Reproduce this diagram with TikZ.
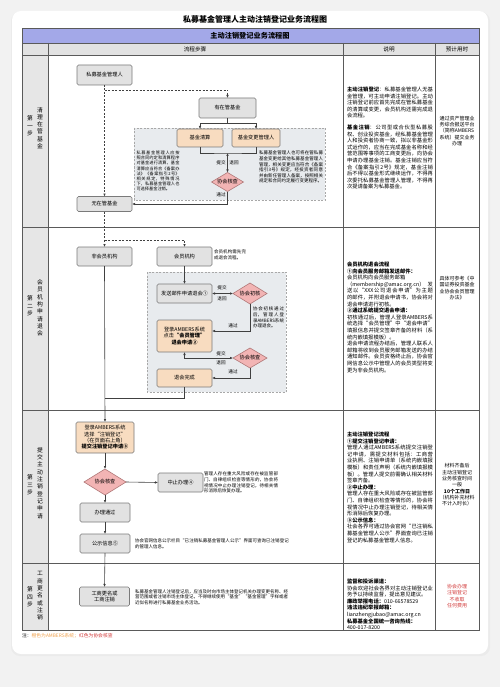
\documentclass[tikz,border=0pt]{standalone}
\usepackage{fontspec}
\setmainfont{Noto Sans CJK SC}
\XeTeXlinebreaklocale "zh"
\XeTeXlinebreakskip = 0pt plus 1pt
\usetikzlibrary{shapes.geometric,arrows.meta,calc}
\definecolor{bgc}{HTML}{F2F2F2}
\definecolor{hdrblue}{HTML}{A3A8E8}
\definecolor{hdrgray}{HTML}{E2E2E2}
\definecolor{lblgray}{HTML}{E6E6E6}
\definecolor{boxgray}{HTML}{E2E2E2}
\definecolor{boxline}{HTML}{7A7A7A}
\definecolor{boxorange}{HTML}{F8DCC0}
\definecolor{diapink}{HTML}{F2B4B4}
\definecolor{diaborder}{HTML}{B07878}
\definecolor{areagray}{HTML}{E8EBEE}
\definecolor{areaborder}{HTML}{A8A8A8}
\definecolor{flowline}{HTML}{404040}
\definecolor{tlinec}{HTML}{5A5A5A}
\definecolor{redt}{HTML}{D23A3A}
\definecolor{oranget}{HTML}{F0A24E}
\begin{document}
\begin{tikzpicture}[x=1pt,y=-1pt,
  every node/.style={inner sep=0pt, outer sep=0pt},
  flowbox/.style={draw=boxline, rounded corners=1.5pt, line width=0.6pt, align=center, font=\fontsize{5.2}{6.3}\selectfont},
  gbox/.style={flowbox, fill=boxgray},
  obox/.style={flowbox, fill=boxorange},
  dia/.style={diamond, aspect=1.6, draw=diaborder, fill=diapink, line width=0.6pt, font=\fontsize{5.2}{6.3}\selectfont},
  conn/.style={draw=flowline, line width=0.6pt},
  arr/.style={conn, -{Latex[length=3pt,width=2.6pt]}},
  darr/.style={conn, {Latex[length=3pt,width=2.6pt]}-{Latex[length=3pt,width=2.6pt]}},
  dashc/.style={conn, dash pattern=on 2pt off 1.5pt},
  dasharr/.style={arr, dash pattern=on 2pt off 1.5pt},
  note/.style={font=\fontsize{4.5}{5.6}\selectfont, align=justify},
  desc/.style={font=\fontsize{5.3}{6.6}\selectfont, text width=86pt, align=justify, anchor=north west},
  lbl/.style={font=\fontsize{4.6}{5.5}\selectfont},
  timec/.style={font=\fontsize{5}{6.3}\selectfont, align=center},
  steplbl/.style={font=\fontsize{5.8}{7.3}\selectfont, align=center},
  area/.style={draw=areaborder, fill=areagray, dash pattern=on 2pt off 1.5pt, line width=0.5pt},
  tline/.style={draw=tlinec, line width=0.8pt},
]
\useasboundingbox (0,0) rectangle (500,687);
% background and card
\fill[bgc] (0,0) rectangle (500,687);
\fill[black!8, rounded corners=9pt] (11,12) rectangle (490,656);
\fill[white, rounded corners=9pt] (12,11) rectangle (488,654);
\node[font=\bfseries\fontsize{8}{9}\selectfont] (title) at (255,19) {私募基金管理人主动注销登记业务流程图};

% table
\fill[hdrblue] (22,28) rectangle (479,43);
\fill[hdrgray] (22,43) rectangle (479,55);
\fill[lblgray] (22,55) rectangle (48,630);
\draw[tline] (22,28) rectangle (479,630);
\draw[tline] (22,43) -- (479,43);
\draw[tline] (22,55) -- (479,55);
\foreach \yy in {227,410,563} \draw[tline] (22,\yy) -- (479,\yy);
\foreach \xx in {48,343,435} \draw[tline] (\xx,43) -- (\xx,630);
\node[font=\bfseries\fontsize{7.2}{8}\selectfont] (hdr) at (250,35.5) {主动注销登记业务流程图};
\node[font=\fontsize{5.6}{6.5}\selectfont] (h1) at (195,49) {流程步骤};
\node[font=\fontsize{5.6}{6.5}\selectfont] (h2) at (389,49) {说明};
\node[font=\fontsize{5.6}{6.5}\selectfont] (h3) at (457,49) {预计用时};

% step labels
\node[steplbl] (s1a) at (30,126) {第\\一\\步};
\node[steplbl] (s1b) at (40,128) {清\\理\\在\\管\\基\\金};
\node[steplbl] (s2a) at (30,306) {第\\二\\步};
\node[steplbl] (s2b) at (40,308) {会\\员\\机\\构\\申\\请\\退\\会};
\node[steplbl] (s3a) at (30,485) {第\\三\\步};
\node[steplbl] (s3b) at (40,483) {提\\交\\主\\动\\注\\销\\登\\记\\申\\请};
\node[steplbl] (s4a) at (30,597) {第\\四\\步};
\node[steplbl] (s4b) at (40,596) {工\\商\\更\\名\\或\\注\\销};

% ---------- step 1 ----------
\fill[area] (134,128) rectangle (325,200);
\draw[area, fill=none] (134,128) rectangle (325,200);
\node[gbox, minimum width=55pt, minimum height=20pt] (n1) at (104.5,75) {私募基金管理人};
\node[gbox, minimum width=57pt, minimum height=20pt] (n2) at (227.5,108) {有在管基金};
\node[obox, minimum width=46pt, minimum height=18pt] (n3) at (200,138) {基金清算};
\node[obox, minimum width=48pt, minimum height=18pt] (n4) at (256,138) {基金变更管理人};
\node[dia, minimum width=32pt, minimum height=19pt] (d1) at (227.5,182) {协会核查};
\node[gbox, minimum width=55pt, minimum height=15pt] (n5) at (104.5,204) {无在管基金};
\node[note, font=\fontsize{4.2}{5.2}\selectfont, text width=43pt, anchor=north west] (t1) at (136.5,151) {私募基金管理人应按照合同约定和清算程序对基金进行清算，基金清算应当符合《备案办法》《备案指引2号》相关规定，特殊情况下，私募基金管理人也可选择基金注销。};
\node[note, text width=64pt, anchor=north west] (t2) at (259,151) {私募基金管理人也可将在管私募基金变更给其他私募基金管理人管理，相关变更应当符合《备案指引3号》规定，经投资者同意并由新任管理人备案，按照相关规定和合同约定履行变更程序。};
\coordinate (c1) at (104.5,90);
\coordinate (s1) at (227.5,123);
\coordinate (b1) at (227.5,153);
\draw[dasharr] (n1.south) -- (n5.north);
\draw[dasharr] (c1) -| (n2.north);
\draw[conn] (n2.south) -- (s1);
\draw[arr] (s1) -| (n3.north);
\draw[arr] (s1) -| (n4.north);
\draw[conn] (n3.south) |- (b1) -| (n4.south);
\draw[darr] (b1) -- (d1.north);
\draw[arr] (d1.south) |- (n5.east);
\node[lbl] (l1) at (221,163) {提交};
\node[lbl] (l2) at (234,163) {退回};
\node[lbl] (l3) at (221,195) {通过};

% ---------- step 2 ----------
\fill[area] (147,272) rectangle (286,392);
\draw[area, fill=none] (147,272) rectangle (286,392);
\node[gbox, minimum width=55pt, minimum height=19pt] (m1) at (104.5,256.5) {非会员机构};
\node[gbox, minimum width=55pt, minimum height=19pt] (m2) at (184.5,256.5) {会员机构};
\node[note, text width=32pt, anchor=north west] (t3) at (214,250) {会员机构需先完成退会流程。};
\node[gbox, minimum width=55pt, minimum height=19pt] (m3) at (184.5,293.5) {发送邮件申请退会①};
\node[dia, minimum width=34pt, minimum height=21pt] (d2) at (250,293.5) {协会初核};
\node[note, text width=31pt, anchor=north west] (t4) at (253,307) {协会初核通过后，管理人登录AMBERS系统办理退会。};
\node[obox, minimum width=55pt, minimum height=32pt] (m4) at (184.5,336) {登录AMBERS系统\\点击\textbf{“会员管理”}\\\textbf{退会申请②}};
\node[dia, minimum width=34pt, minimum height=20pt] (d3) at (250,358) {协会核查};
\node[obox, minimum width=55pt, minimum height=18pt] (m5) at (184.5,378) {退会完成};
\coordinate (c2) at (104.5,240);
\coordinate (j2) at (104.5,398);
\draw[dashc] (n5.south) -- (c2);
\draw[dasharr] (c2) -- (m1.north);
\draw[dasharr] (c2) -| (m2.north);
\draw[arr] (m2.south) -- (m3.north);
\draw[darr] (m3.east) -- (d2.west);
\draw[arr] (d2.south) |- ([yshift=5pt]m4.east);
\draw[darr] (m4.south) |- (d3.west);
\draw[arr] (d3.south) |- (m5.east);
\draw[conn] (m5.south) |- (j2);
\node[lbl] (l4) at (222,288) {提交};
\node[lbl] (l5) at (222,299) {退回};
\node[lbl] (l6) at (233,326) {通过};
\node[lbl] (l7) at (221,354) {提交};
\node[lbl] (l8) at (221,363) {退回};
\node[lbl] (l9) at (233,372) {通过};

% ---------- step 3 ----------
\node[obox, minimum width=58pt, minimum height=31pt] (p1) at (105,437.5) {登录AMBERS系统\\选择“注销登记”\\（在页面右上角）\\\textbf{提交注销登记申请③}};
\node[dia, minimum width=42pt, minimum height=26pt] (d4) at (105,482) {协会核查};
\node[gbox, minimum width=45pt, minimum height=19pt] (p2) at (180.5,482.5) {中止办理④};
\node[note, text width=74pt, anchor=west] (t5) at (204,482.5) {管理人存在重大风险或存在被监管部门、自律组织检查等情形的，协会将视情况中止办理注销登记，待相关情形消除后恢复办理。};
\node[gbox, minimum width=50pt, minimum height=19pt] (p3) at (105,512.5) {办理通过};
\node[gbox, minimum width=50pt, minimum height=19pt] (p4) at (105,543.5) {公示信息⑤};
\node[note, text width=154pt, anchor=west, align=left] (t6) at (135,543.5) {协会官网信息公示栏目“已注销私募基金管理人公示”界面可查询已注销登记的管理人信息。};
\draw[arr] (m1.south) -- (p1.north);
\draw[arr] (p1.south) -- (d4.north);
\draw[arr] (d4.east) -- (p2.west);
\draw[arr] (d4.south) -- (p3.north);
\draw[arr] (p3.south) -- (p4.north);

% ---------- step 4 ----------
\node[gbox, minimum width=50pt, minimum height=19pt] (q1) at (104.5,596.5) {工商更名或\\工商注销};
\node[note, text width=153pt, anchor=west, align=left] (t7) at (135,597) {私募基金管理人注销登记后，应当及时向市场主体登记机关办理变更名称、经营范围或者注销市场主体登记，不得继续使用“基金”“基金管理”字样或者近似名称进行私募基金业务活动。};
\draw[arr] (p4.south) -- (q1.north);

% note
\node[font=\fontsize{4.8}{5.8}\selectfont, anchor=west] (legend) at (22,636) {注：\textcolor{oranget}{橙色为AMBERS系统；}\textcolor{redt}{红色为协会核查}};

% ---------- description column ----------
\node[desc] (e1) at (347,87) {\textbf{主动注销登记}：私募基金管理人无基金管理，可主动申请注销登记。主动注销登记前应首先完成在管私募基金的清算或变更，会员机构还需完成退会流程。\par\vspace{5pt}\textbf{基金注销}：公司型或合伙型私募股权、创业投资基金，经私募基金管理人和投资者协商一致，拟以非基金形式运作的，应当在完成基金名称和经营范围等事项的工商变更后，向协会申请办理基金注销。基金注销应当符合《备案指引2号》规定，基金注销后不得以基金形式继续运作，不得再次委托私募基金管理人管理，不得再次提请备案为私募基金。};
\node[desc] (e2) at (347,262) {\textbf{会员机构退会流程}\\\textbf{①向会员服务邮箱发送邮件：}\\会员机构向会员服务邮箱\\（membership@amac.org.cn）发送以“XXX公司退会申请”为主题的邮件，并附退会申请书，协会将对退会申请进行初核。\\\textbf{②通过系统提交退会申请：}\\初核通过后，管理人登录AMBERS系统选择“会员管理”中“退会申请”填报信息并提交签章齐备的材料（系统内嵌填报模板）。\\退会申请流程办结后，管理人联系人邮箱将收到会员服务邮箱发送的办结通知邮件。会员资格终止后，协会官网信息公示中管理人的会员类型将变更为非会员机构。};
\node[desc] (e3) at (347,432) {\textbf{主动注销登记流程}\\\textbf{①提交注销登记申请：}\\管理人通过AMBERS系统提交注销登记申请，需提交材料包括：工商营业执照、注销申请单（系统内嵌填报模板）和责任声明（系统内嵌填报模板）。管理人提交前需确认相关材料签章齐备。\\\textbf{②中止办理：}\\管理人存在重大风险或存在被监管部门、自律组织检查等情形的，协会将视情况中止办理注销登记，待相关情形消除后恢复办理。\\\textbf{③公示信息：}\\社会各界可通过协会官网“已注销私募基金管理人公示”界面查询已注销登记的私募基金管理人信息。};
\node[desc] (e4) at (347,579) {\textbf{监督和投诉渠道：}\\协会欢迎社会各界对主动注销登记业务予以持续监督，提出意见建议。\\\textbf{廉政举报电话：}010-66578529\\\textbf{违法违纪举报邮箱：}\\lianzhengjubao@amac.org.cn\\\textbf{私募基金全国统一咨询热线：}\\400-017-8200};

% ---------- time column ----------
\node[timec] (r1) at (457,131) {通过资产管理业\\务综合报送平台\\（简称AMBERS\\系统）提交业务\\办理};
\node[timec] (r2) at (457,288) {具体可参考《中\\国证券投资基金\\业协会会员管理\\办法》};
\node[timec] (r3) at (457,485) {材料齐备后\\主动注销登记\\业务核查时间\\一般\\\textbf{10个工作日}\\（机构补充材料\\不计入时长）};
\node[timec, text=redt] (r4) at (457,596) {协会办理\\注销登记\\不收取\\任何费用};
\end{tikzpicture}
\end{document}
